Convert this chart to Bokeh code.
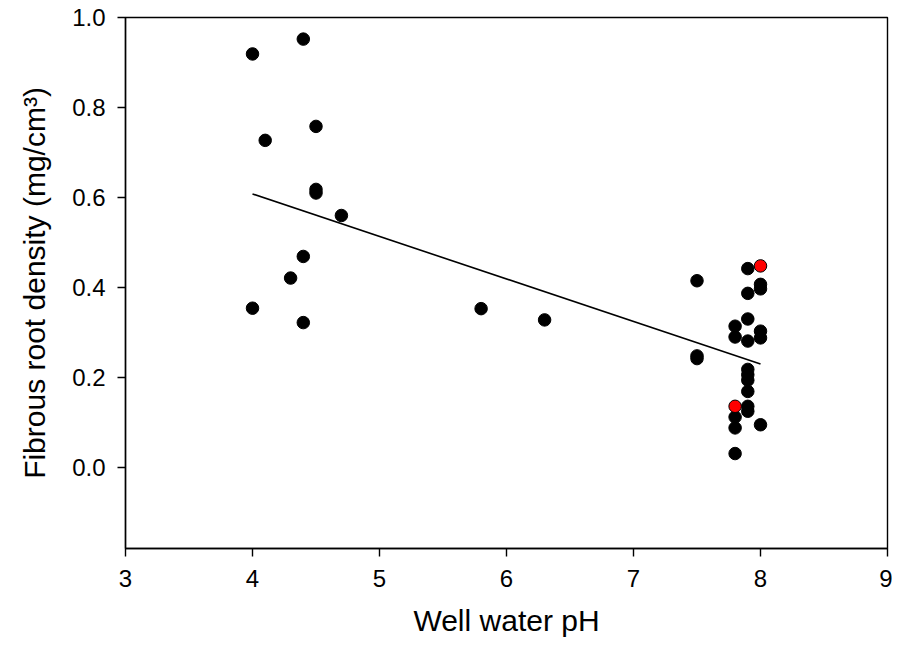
from bokeh.plotting import figure
from bokeh.models import FixedTicker, PrintfTickFormatter, Range1d
from bokeh.embed import file_html
from bokeh.resources import INLINE

# Data
ph_black = [4.0, 4.4, 4.1, 4.5, 4.5, 4.5, 4.7, 4.4, 4.3, 4.0, 4.4,
            5.8, 6.3,
            7.5, 7.5, 7.5,
            7.8, 7.8, 7.8, 7.8, 7.8,
            7.9, 7.9, 7.9, 7.9, 7.9, 7.9, 7.9, 7.9, 7.9, 7.9,
            8.0, 8.0, 8.0, 8.0, 8.0]
frd_black = [0.919, 0.952, 0.727, 0.758, 0.618, 0.610, 0.560, 0.469, 0.421, 0.354, 0.322,
             0.353, 0.328,
             0.415, 0.248, 0.242,
             0.314, 0.290, 0.112, 0.088, 0.031,
             0.442, 0.387, 0.330, 0.281, 0.218, 0.206, 0.194, 0.169, 0.136, 0.125,
             0.407, 0.397, 0.303, 0.288, 0.095]
ph_red = [7.8, 8.0]
frd_red = [0.136, 0.448]
fit_x = [4.0, 8.0]
fit_y = [0.608, 0.230]
x_ticks = [3, 4, 5, 6, 7, 8, 9]
y_ticks = [0.0, 0.2, 0.4, 0.6, 0.8, 1.0]

p = figure(width=892, height=647, output_backend="svg", toolbar_location=None,
           x_range=Range1d(3, 9), y_range=Range1d(-0.18, 1.0),
           min_border_left=125, min_border_right=5, min_border_top=17, min_border_bottom=99)
p.xgrid.visible = False
p.ygrid.visible = False
p.outline_line_color = "black"
p.outline_line_width = 1.4

p.line(fit_x, fit_y, line_color="black", line_width=1.6)
p.scatter(ph_black, frd_black, size=12.5, fill_color="black", line_color="black", line_width=1)
p.scatter(ph_red, frd_red, size=12.5, fill_color="red", line_color="black", line_width=1)

font = "Liberation Sans"
for ax in (p.xaxis[0], p.yaxis[0]):
    ax.axis_line_color = "black"
    ax.axis_line_width = 1.4
    ax.major_tick_line_color = "black"
    ax.major_tick_line_width = 1.4
    ax.major_tick_in = 0
    ax.major_tick_out = 8
    ax.minor_tick_line_color = None
    ax.major_label_text_font = font
    ax.major_label_text_font_size = "24px"
    ax.major_label_text_color = "black"
    ax.axis_label_text_font = font
    ax.axis_label_text_font_size = "30px"
    ax.axis_label_text_font_style = "normal"
    ax.axis_label_text_color = "black"

p.xaxis.ticker = FixedTicker(ticks=x_ticks)
p.yaxis.ticker = FixedTicker(ticks=y_ticks)
p.yaxis.formatter = PrintfTickFormatter(format="%.1f")
p.xaxis.major_label_standoff = 13
p.yaxis.major_label_standoff = 12
p.xaxis.axis_label = "Well water pH"
p.yaxis.axis_label = "Fibrous root density (mg/cm³)"
p.xaxis.axis_label_standoff = 14
p.yaxis.axis_label_standoff = 18

open("out.html", "w").write(file_html(p, INLINE))
